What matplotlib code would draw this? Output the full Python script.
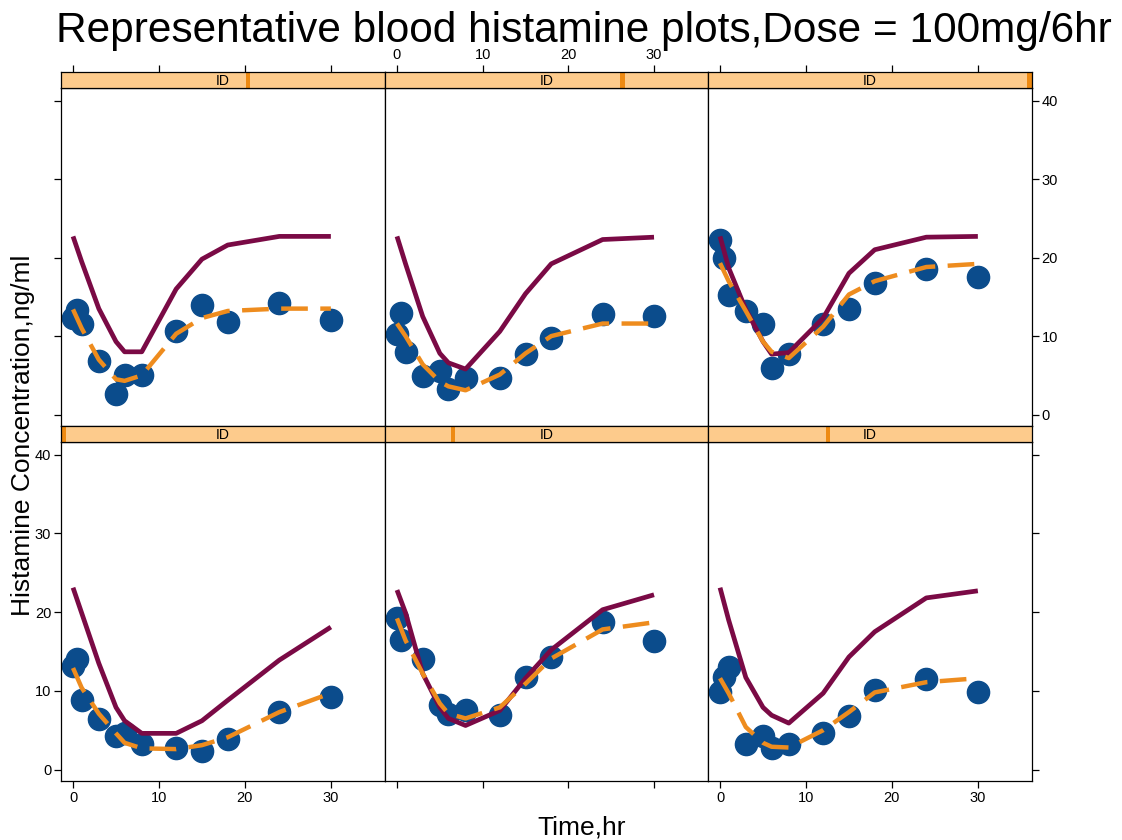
import matplotlib
matplotlib.use("Agg")
import matplotlib.pyplot as plt
import numpy as np

W, H = 1122, 840

title = "Representative blood histamine plots,Dose = 100mg/6hr"
xlabel = "Time,hr"
ylabel = "Histamine Concentration,ng/ml"
strip_text = "ID"

xticks = [0, 10, 20, 30]
yticks = [0, 10, 20, 30, 40]

# observed sample times per panel
obs_t1 = [0, 0.5, 1, 3, 5, 6, 8, 12, 15, 18, 24, 30]
obs_t2 = [0, 0.5, 1, 3, 5, 6, 8, 12, 15, 18, 24, 30]
obs_t3 = [0, 0.5, 1, 3, 5, 6, 8, 12, 15, 18, 24, 30]
obs_t4 = [0, 0.5, 1, 3, 5, 6, 8, 12, 15, 18, 24, 30]
obs_t5 = [0, 0.5, 3, 5, 6, 8, 12, 15, 18, 24, 30]
obs_t6 = [0, 0.5, 1, 3, 5, 6, 8, 12, 15, 18, 24, 30]

# observed concentrations
obs_c1 = [12.3, 13.3, 11.5, 6.8, 2.6, 5.1, 5.1, 10.6, 14.0, 11.8, 14.2, 12.0]
obs_c2 = [10.3, 12.9, 8.0, 4.9, 5.5, 3.3, 4.6, 4.6, 7.7, 9.7, 12.8, 12.6]
obs_c3 = [22.3, 20.0, 15.2, 13.2, 11.5, 5.9, 7.7, 11.5, 13.5, 16.7, 18.5, 17.5]
obs_c4 = [13.2, 14.0, 8.8, 6.4, 4.3, 4.7, 3.3, 2.8, 2.4, 3.9, 7.3, 9.2]
obs_c5 = [19.2, 16.4, 14.0, 8.2, 7.1, 7.6, 6.9, 11.7, 14.3, 18.7, 16.3]
obs_c6 = [9.8, 11.7, 13.0, 3.3, 4.3, 2.7, 3.3, 4.6, 6.8, 10.1, 11.5, 9.8]

# prediction time grid
pred_t = [0, 1, 3, 5, 6, 8, 12, 15, 18, 24, 30]

# population predictions (solid purple)
pop_1 = [22.7, 19.5, 13.5, 9.3, 8.0, 8.0, 16.0, 19.8, 21.6, 22.7, 22.7]
pop_2 = [22.7, 19.2, 12.5, 7.8, 6.6, 5.8, 10.6, 15.4, 19.2, 22.3, 22.6]
pop_3 = [22.7, 18.7, 13.4, 9.3, 7.7, 7.9, 12.3, 18.0, 21.0, 22.6, 22.7]
pop_4 = [23.1, 19.9, 13.5, 7.9, 6.2, 4.6, 4.6, 6.2, 8.8, 13.9, 18.1]
pop_5 = [22.8, 19.9, 12.2, 7.9, 6.5, 5.6, 7.5, 11.6, 15.2, 20.3, 22.2]
pop_6 = [23.1, 19.0, 11.7, 7.9, 6.9, 5.9, 9.7, 14.3, 17.5, 21.8, 22.7]

# individual predictions (dashed orange)
ind_1 = [13.4, 11.0, 7.0, 4.5, 4.3, 5.0, 10.3, 12.3, 13.2, 13.5, 13.5]
ind_2 = [11.6, 10.0, 6.4, 4.2, 3.6, 3.1, 5.1, 7.8, 10.0, 11.6, 11.6]
ind_3 = [19.3, 17.0, 13.2, 9.3, 8.0, 7.2, 11.2, 15.3, 17.0, 18.8, 19.2]
ind_4 = [12.9, 10.4, 7.1, 4.6, 3.4, 2.7, 2.6, 3.1, 4.1, 7.3, 9.7]
ind_5 = [19.2, 16.4, 12.2, 8.4, 7.1, 6.5, 7.9, 10.9, 14.1, 17.8, 18.7]
ind_6 = [11.6, 9.7, 5.4, 3.4, 2.9, 2.8, 5.0, 7.3, 9.8, 11.1, 11.6]

# ID level indicator position in each strip (fraction of strip width)
strip_level = [0.577, 0.736, 0.995, 0.005, 0.21, 0.37]

obs_t = [obs_t1, obs_t2, obs_t3, obs_t4, obs_t5, obs_t6]
obs_c = [obs_c1, obs_c2, obs_c3, obs_c4, obs_c5, obs_c6]
pops = [pop_1, pop_2, pop_3, pop_4, pop_5, pop_6]
inds = [ind_1, ind_2, ind_3, ind_4, ind_5, ind_6]

C_PT = "#0B4C8C"
C_POP = "#7A0A45"
C_IND = "#EE8C1E"
C_STRIP = "#FDCB8C"
C_BAR = "#EE8A12"

TICKFONT = ["Liberation Sans Narrow", "Liberation Sans", "DejaVu Sans"]
plt.rcParams["font.family"] = ["Liberation Sans", "DejaVu Sans"]

fig = plt.figure(figsize=(W / 100, H / 100), dpi=100)


def rect(x0, y0, x1, y1):
    return [x0 / W, 1 - y1 / H, (x1 - x0) / W, (y1 - y0) / H]


cols = [(61, 385), (385, 708), (708, 1032)]
rows = [((72, 88), (88, 426)), ((426, 442), (442, 781))]
XLIM = (-1.4, 36.3)
YLIM = (-1.45, 41.6)

tick_kw = dict(direction="out", length=5, width=0.9, color="black", labelsize=10.5, pad=2)

for r in range(2):
    (sy0, sy1), (py0, py1) = rows[r]
    for c in range(3):
        i = r * 3 + c
        x0, x1 = cols[c]
        ax = fig.add_axes(rect(x0, py0, x1, py1))
        sax = fig.add_axes(rect(x0, sy0, x1, sy1))

        ax.plot(obs_t[i], obs_c[i], "o", color=C_PT, ms=16, mec=C_PT, zorder=2, clip_on=False)
        ax.plot(pred_t, pops[i], "-", color=C_POP, lw=3.4, zorder=3, solid_capstyle="butt")
        ln, = ax.plot(pred_t, inds[i], "-", color=C_IND, lw=3.2, zorder=4, dash_capstyle="butt")
        ln.set_dashes([6.0, 2.8])

        ax.set_xlim(*XLIM)
        ax.set_ylim(*YLIM)
        for sp in ax.spines.values():
            sp.set_linewidth(0.9)

        ax.set_xticks(xticks)
        ax.set_yticks(yticks)
        ax.tick_params(**tick_kw)
        ax.tick_params(axis="x", top=False, labeltop=False,
                       bottom=(r == 1), labelbottom=(r == 1 and c != 1))
        ax.tick_params(axis="y", left=(c == 0), labelleft=(c == 0 and r == 1),
                       right=(c == 2), labelright=(c == 2 and r == 0))
        for lab in ax.get_xticklabels() + ax.get_yticklabels():
            lab.set_family(TICKFONT)

        # strip
        sax.set_xlim(0, 1)
        sax.set_ylim(0, 1)
        sax.set_facecolor(C_STRIP)
        bw = 0.014
        bx = min(max(strip_level[i] - bw / 2, 0), 1 - bw)
        sax.axvspan(bx, bx + bw, color=C_BAR, lw=0)
        sax.text(0.5, 0.45, strip_text, ha="center", va="center", fontsize=10,
                 family=TICKFONT)
        for sp in sax.spines.values():
            sp.set_linewidth(0.9)
        sax.set_yticks([])
        if r == 0:
            tx = sax.twiny()
            tx.set_xlim(*XLIM)
            tx.set_xticks(xticks)
            tx.tick_params(**tick_kw)
            tx.tick_params(axis="x", labeltop=(c == 1))
            for lab in tx.get_xticklabels():
                lab.set_family(TICKFONT)
            for sp in tx.spines.values():
                sp.set_visible(False)
        sax.set_xticks([])

fig.text(584 / W, 1 - 42 / H, title, ha="center", va="baseline", fontsize=30.5)
fig.text(582 / W, 1 - 835 / H, xlabel, ha="center", va="baseline", fontsize=19)
fig.text(23 / W, 1 - 435 / H, ylabel, ha="center", va="center", rotation=90, fontsize=19)

fig.savefig("out.png", dpi=100)
